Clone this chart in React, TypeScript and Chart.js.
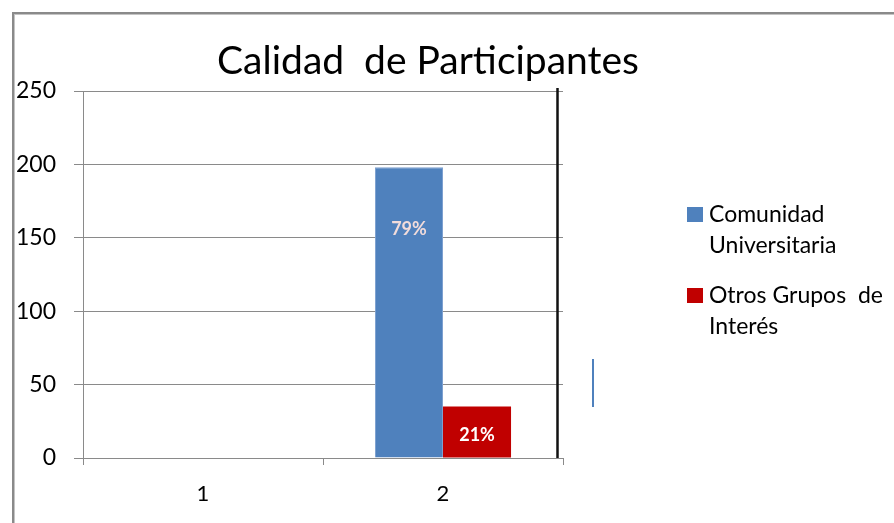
import React, { useEffect, useRef } from "react";
import { Chart, registerables } from "chart.js";

Chart.register(...registerables);

const chartTitle = "Calidad  de Participantes";
const categories = ["1", "2"];
const seriesNames = ["Comunidad Universitaria", "Otros Grupos  de Interés"];
const legendLines = [
  ["Comunidad", "Universitaria"],
  ["Otros Grupos  de", "Interés"],
];
const comunidadValues: (number | null)[] = [null, 198];
const otrosValues: (number | null)[] = [null, 35];
const percentLabels = [
  [null, "79%"],
  [null, "21%"],
];
const seriesColors = ["#4F81BD", "#C00000"];
const FONT = "Lato, 'Open Sans', sans-serif";

const framePlugin = {
  id: "frame",
  beforeDraw(chart: any) {
    const ctx = chart.ctx;
    ctx.save();
    ctx.fillStyle = "#ffffff";
    ctx.fillRect(0, 0, chart.width, chart.height);
    ctx.fillStyle = "#8a8a8a";
    ctx.fillRect(12, 12, 2, chart.height - 12);
    ctx.fillRect(12, 12, chart.width - 12, 2);
    ctx.fillStyle = "#c4c4c4";
    ctx.fillRect(14, 14, 1, chart.height - 14);
    ctx.fillRect(14, 14, chart.width - 14, 1);
    ctx.restore();
  },
};

const titlePlugin = {
  id: "customTitle",
  afterDraw(chart: any) {
    const ctx = chart.ctx;
    ctx.save();
    ctx.font = `39px ${FONT}`;
    ctx.fillStyle = "#000000";
    ctx.textAlign = "center";
    ctx.textBaseline = "alphabetic";
    ctx.fillText(chartTitle, 428, 74);
    ctx.restore();
  },
};

const legendPlugin = {
  id: "customLegend",
  afterDraw(chart: any) {
    const ctx = chart.ctx;
    ctx.save();
    ctx.font = `23px ${FONT}`;
    ctx.textAlign = "left";
    ctx.textBaseline = "alphabetic";
    const starts = [222, 303];
    chart.data.datasets.forEach((ds: any, i: number) => {
      const base = starts[i];
      ctx.fillStyle = ds.backgroundColor;
      ctx.fillRect(687, base - 15, 16, 15);
      ctx.fillStyle = "#000000";
      legendLines[i].forEach((line, j) => {
        ctx.fillText(line, 709, base + j * 31);
      });
    });
    ctx.restore();
  },
};

const labelPlugin = {
  id: "barLabels",
  afterDatasetsDraw(chart: any) {
    const ctx = chart.ctx;
    const offsets = [62, 29];
    const colors = ["#F2DCDB", "#FFFFFF"];
    ctx.save();
    ctx.font = `bold 18px ${FONT}`;
    ctx.textAlign = "center";
    ctx.textBaseline = "middle";
    chart.data.datasets.forEach((_ds: any, i: number) => {
      const meta = chart.getDatasetMeta(i);
      meta.data.forEach((bar: any, j: number) => {
        const txt = percentLabels[i][j];
        if (!txt) return;
        ctx.fillStyle = colors[i];
        ctx.fillText(txt, bar.x, bar.y + offsets[i]);
      });
    });
    ctx.restore();
  },
};

const decoPlugin = {
  id: "deco",
  afterDraw(chart: any) {
    const ctx = chart.ctx;
    const a = chart.chartArea;
    ctx.save();
    ctx.strokeStyle = "#111111";
    ctx.lineWidth = 2.5;
    ctx.beginPath();
    ctx.moveTo(a.right - 5.5, a.top - 3);
    ctx.lineTo(a.right - 5.5, a.bottom);
    ctx.stroke();
    ctx.strokeStyle = "#4F81BD";
    ctx.lineWidth = 2;
    ctx.beginPath();
    ctx.moveTo(a.right + 30, 359);
    ctx.lineTo(a.right + 30, 407);
    ctx.stroke();
    ctx.restore();
  },
};

export default function App() {
  const ref = useRef<HTMLCanvasElement>(null);
  useEffect(() => {
    document.body.style.margin = "0";
    if (!ref.current) return;
    const chart = new Chart(ref.current, {
      type: "bar",
      data: {
        labels: categories,
        datasets: [
          {
            label: seriesNames[0],
            data: comunidadValues,
            backgroundColor: seriesColors[0],
            borderColor: "#7DA0D0",
            borderWidth: 1,
            categoryPercentage: 0.567,
            barPercentage: 1,
          },
          {
            label: seriesNames[1],
            data: otrosValues,
            backgroundColor: seriesColors[1],
            borderColor: seriesColors[1],
            borderWidth: 0,
            categoryPercentage: 0.567,
            barPercentage: 1,
          },
        ],
      },
      options: {
        responsive: false,
        animation: false,
        layout: { padding: { left: 0, top: 91, right: 331, bottom: 0 } },
        plugins: {
          legend: { display: false },
          title: { display: false },
          tooltip: { enabled: false },
        },
        scales: {
          x: {
            afterFit: (s: any) => {
              s.height = 65;
            },
            grid: {
              drawOnChartArea: false,
              drawTicks: true,
              tickLength: 7,
              color: "#8a8a8a",
              offset: true,
            },
            border: { display: true, color: "#8a8a8a", width: 1 },
            ticks: {
              font: { family: FONT, size: 22 },
              color: "#000000",
              padding: 16,
            },
          },
          y: {
            min: 0,
            max: 250,
            afterFit: (s: any) => {
              s.width = 83;
            },
            grid: {
              color: "#8a8a8a",
              drawTicks: true,
              tickLength: 9,
            },
            border: { display: true, color: "#8a8a8a", width: 1 },
            ticks: {
              stepSize: 50,
              font: { family: FONT, size: 23 },
              color: "#000000",
              padding: 18,
            },
          },
        },
      },
      plugins: [framePlugin, labelPlugin, decoPlugin, titlePlugin, legendPlugin],
    });
    return () => chart.destroy();
  }, []);
  return (
    <div style={{ width: 894, height: 523 }}>
      <canvas ref={ref} width={894} height={523} />
    </div>
  );
}
